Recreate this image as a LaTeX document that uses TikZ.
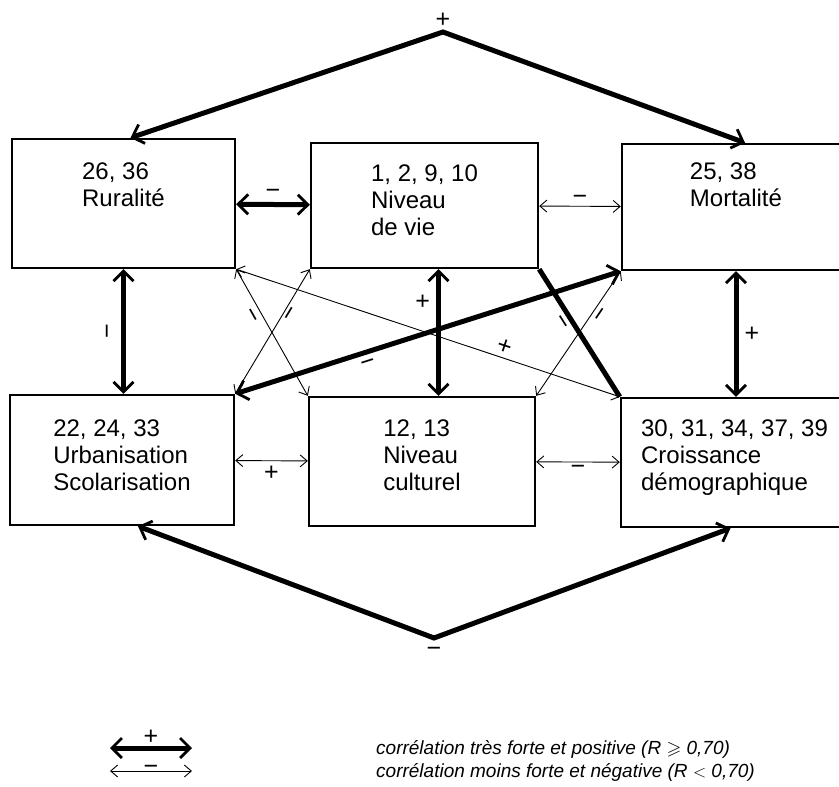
\documentclass[tikz,border=0pt]{standalone}
\usepackage{amssymb}
\usepackage{fontspec}
\setmainfont{Liberation Sans}
\usetikzlibrary{arrows.meta,positioning}

\tikzset{
  box/.style={draw, line width=2.4pt, inner sep=0pt},
  txt/.style={align=left, inner sep=2pt, font=\fontsize{24}{27}\selectfont},
  sg/.style={inner sep=1pt, font=\fontsize{25}{25}\selectfont},
  key/.style={anchor=west, inner sep=0pt, font=\fontsize{19}{19}\selectfont\itshape},
  heavy/.style={line width=5pt,
    arrows={Straight Barb[length=10pt,width=20pt,line width=2.8pt]-Straight Barb[length=10pt,width=20pt,line width=2.8pt]}},
  light/.style={line width=0.9pt,
    arrows={Straight Barb[length=7pt,width=12pt]-Straight Barb[length=7pt,width=12pt]}}
}

\begin{document}
\begin{tikzpicture}[x=1pt, y=-1pt]
\useasboundingbox (0,0) rectangle (839,787);
\node (rur) at (123.5, 203.5) [box, minimum width=223pt, minimum height=129pt] {};
\node (vie) at (424.5, 205.5) [box, minimum width=227pt, minimum height=125pt] {};
\node (mort) at (736, 207) [box, minimum width=228pt, minimum height=126pt] {};
\node (urb) at (122, 460) [box, minimum width=224pt, minimum height=130pt] {};
\node (cul) at (422, 461.5) [box, minimum width=226pt, minimum height=129pt] {};
\node (cro) at (734.5, 462.5) [box, minimum width=227pt, minimum height=129pt] {};
\node (rur-t) [txt, below=23pt of rur.north] {26, 36\\Ruralité};
\node (vie-t) [txt, below=21pt of vie.north] {1, 2, 9, 10\\Niveau\\de vie};
\node (mort-t) [txt, below=18pt of mort.north] {25, 38\\Mortalité};
\node (urb-t) [txt, below=24pt of urb.north] {22, 24, 33\\Urbanisation\\Scolarisation};
\node (cul-t) [txt, below=22pt of cul.north] {12, 13\\Niveau\\culturel};
\node (cro-t) [txt, below=21pt of cro.north] {30, 31, 34, 37, 39\\Croissance\\démographique};
\coordinate (hi) at (443, 32);
\coordinate (lo) at (434, 638);
\draw [heavy] ([xshift=7pt]rur.north) -- (hi) node[sg, above=1pt] {+} -- ([xshift=9pt]mort.north);
\draw [heavy] ([xshift=16pt]urb.south) -- (lo) node[sg, below=6pt] {−} -- ([xshift=-4pt]cro.south);
\draw [heavy] (rur) -- (vie) node[sg, midway, above=2pt] {−};
\draw [light] (vie) -- (mort) node[sg, midway, above=0pt] {−};
\draw [light] (urb) -- (cul) node[sg, midway, below=4pt] {+};
\draw [light] (cul) -- (cro) node[sg, midway, below=2pt] {−};
\draw [heavy] (rur.south) -- (rur.south |- urb.north) node[sg, midway, xshift=-13pt, rotate=90] {−};
\draw [heavy] ([xshift=14pt]vie.south) -- ([xshift=14pt]vie.south |- cul.north) node[sg, pos=.26, left=5pt] {+};
\draw [heavy] (mort.south) -- (mort.south |- cro.north) node[sg, midway, right=5pt] {+};
\draw [light] (rur.south east) -- (cul.north west) node[sg, sloped, pos=.33, below=5pt] {−};
\draw [light] (rur.south east) -- (cro.north west) node[sg, sloped, pos=.69, above=2pt] {+};
\draw [light] (vie.south west) -- (urb.north east) node[sg, sloped, pos=.33, below=2pt] {−};
\draw [heavy, arrows=-] (vie.south east) -- (cro.north west) node[sg, sloped, pos=.38, below=3pt] {−};
\draw [light] (cul.north east) -- (mort.south west) node[sg, sloped, pos=.685, below=4pt] {−};
\draw [heavy] (urb.north east) -- (mort.south west) node[sg, sloped, pos=.335, below=5pt] {−};
\coordinate (k1a) at (110, 748);
\coordinate (k1b) at (192, 748);
\coordinate (k2a) at (110, 771);
\coordinate (k2b) at (192, 771);
\draw [heavy] (k1a) -- (k1b) node[sg, midway, above=0pt] {+};
\draw [light] (k2a) -- (k2b) node[sg, midway, above=-5pt] {−};
\node (key1) [key] at (376, 749) {corrélation très forte et positive (R $\geqslant$ 0,70)};
\node (key2) [key] at (376, 772) {corrélation moins forte et négative (R $<$ 0,70)};
\end{tikzpicture}
\end{document}
